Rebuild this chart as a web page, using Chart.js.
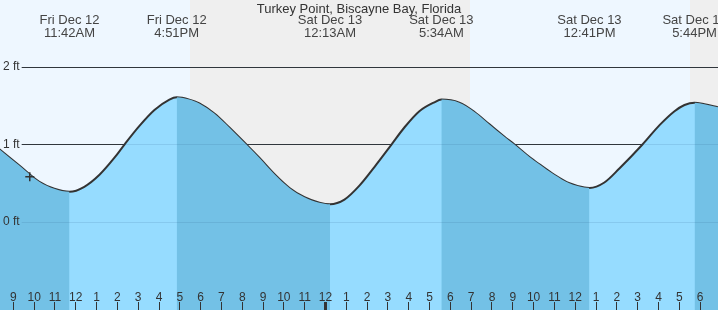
<!DOCTYPE html>
<html>
<head>
<meta charset="utf-8">
<script src="https://cdn.jsdelivr.net/npm/chart.js@4.4.1/dist/chart.umd.min.js"></script>
<style>
  html, body { margin: 0; padding: 0; background: #eef7ff; }
  canvas { display: block; }
</style>
</head>
<body>
<canvas id="tideChart" width="718" height="310"></canvas>
<script>
// hours are counted from Fri Dec 12 00:00, heights in feet
var stationName = "Turkey Point, Biscayne Bay, Florida";

var tideHours = [8.33, 9.29, 10.25, 10.97, 11.70, 12.41, 13.14, 13.86, 14.34, 15.06, 15.78, 16.50, 16.85,
  17.46, 17.94, 18.66, 19.38, 20.20, 20.82, 21.54, 22.27, 22.99, 23.71, 24.217,
  24.91, 25.63, 26.35, 27.17, 27.79, 28.51, 29.23, 29.567,
  30.43, 31.16, 31.88, 32.60, 33.08, 33.80, 34.28, 35.00, 35.72, 36.44, 36.683,
  37.40, 38.12, 39.23, 40.05, 40.77, 41.25, 41.733, 42.21, 42.86];
var tideFeet = [0.94, 0.73, 0.52, 0.43, 0.39, 0.455, 0.61, 0.83, 1.00, 1.24, 1.445, 1.58, 1.61,
  1.58, 1.53, 1.40, 1.22, 1.00, 0.83, 0.62, 0.44, 0.32, 0.25, 0.23,
  0.29, 0.47, 0.71, 1.00, 1.22, 1.43, 1.545, 1.58,
  1.54, 1.42, 1.26, 1.10, 1.00, 0.84, 0.745, 0.61, 0.50, 0.445, 0.44,
  0.51, 0.69, 1.00, 1.25, 1.43, 1.51, 1.54, 1.52, 1.48];

// high / low tide labels along the top
var eventHours = [11.70, 16.85, 24.217, 29.567, 36.683, 41.733];
var eventDays = ["Fri Dec 12", "Fri Dec 12", "Sat Dec 13", "Sat Dec 13", "Sat Dec 13", "Sat Dec 13"];
var eventClock = ["11:42AM", "4:51PM", "12:13AM", "5:34AM", "12:41PM", "5:44PM"];

// sunset -> sunrise
var nightStart = [17.49, 41.52];
var nightEnd = [30.94, 48];

// current time marker
var nowHour = [9.79];
var nowFeet = [0.585];

var footTicks = [0, 1, 2];

var hourMin = 8.36, hourMax = 42.86;
var feetMin = -1.135, feetMax = 2.865;

var fillRising = '#96dcff';
var fillFalling = '#73c1e6';
var FONT = '"Liberation Sans", Arial, sans-serif';

var tidePoints = tideHours.map(function (h, i) { return { x: h, y: tideFeet[i] }; });
var nowPoints = nowHour.map(function (h, i) { return { x: h, y: nowFeet[i] }; });

function noPadding(s) {
  s.paddingLeft = 0; s.paddingRight = 0; s.paddingTop = 0; s.paddingBottom = 0;
}

// day / night bands behind everything, tide labels on top
var tideDecor = {
  id: 'tideDecor',
  beforeDraw: function (chart) {
    var c = chart.ctx, area = chart.chartArea, xs = chart.scales.x;
    c.save();
    c.fillStyle = '#eef7ff';
    c.fillRect(area.left, area.top, area.right - area.left, area.bottom - area.top);
    c.fillStyle = '#efefef';
    for (var i = 0; i < nightStart.length; i++) {
      var x0 = Math.round(Math.max(xs.getPixelForValue(nightStart[i]), area.left));
      var x1 = Math.round(Math.min(xs.getPixelForValue(nightEnd[i]), area.right));
      c.fillRect(x0, area.top, x1 - x0, area.bottom - area.top);
    }
    c.restore();
  },
  afterDraw: function (chart) {
    var c = chart.ctx, xs = chart.scales.x;
    c.save();
    c.font = '13px ' + FONT;
    c.textAlign = 'center';
    c.textBaseline = 'alphabetic';
    c.fillStyle = '#444';
    for (var i = 0; i < eventHours.length; i++) {
      var x = xs.getPixelForValue(eventHours[i]);
      c.fillText(eventDays[i], x, 24.3);
      c.fillText(eventClock[i], x, 36.6);
    }
    c.fillStyle = '#333';
    c.fillText(stationName, chart.width / 2, 12.5);
    c.restore();
  }
};

var ctx = document.getElementById('tideChart').getContext('2d');
var tideChart = new Chart(ctx, {
  type: 'line',
  data: {
    datasets: [{
      label: 'now',
      data: nowPoints,
      showLine: false,
      pointStyle: 'cross',
      pointRadius: 4.5,
      pointBorderColor: '#333',
      pointBorderWidth: 1.5,
      fill: false
    }, {
      // darker fill where the tide is falling
      label: 'falling',
      data: tidePoints,
      borderWidth: 0,
      borderColor: 'rgba(0,0,0,0)',
      pointRadius: 0,
      cubicInterpolationMode: 'monotone',
      fill: 'start',
      backgroundColor: fillFalling,
      segment: {
        backgroundColor: function (s) {
          return s.p1.parsed.y > s.p0.parsed.y ? 'rgba(0,0,0,0)' : fillFalling;
        }
      }
    }, {
      label: 'tide',
      data: tidePoints,
      borderColor: '#333',
      borderWidth: 2,
      pointRadius: 0,
      cubicInterpolationMode: 'monotone',
      fill: 'start',
      backgroundColor: fillRising
    }]
  },
  options: {
    responsive: false,
    animation: false,
    devicePixelRatio: 1,
    layout: { padding: 0, autoPadding: false },
    plugins: {
      legend: { display: false },
      tooltip: { enabled: false }
    },
    scales: {
      x: {
        type: 'linear',
        position: 'bottom',
        min: hourMin,
        max: hourMax,
        afterFit: function (s) { s.height = 0; noPadding(s); },
        border: { display: false },
        grid: {
          z: 1,
          drawOnChartArea: false,
          drawTicks: true,
          tickLength: -8,
          tickColor: '#333',
          tickWidth: function (c) { return c.tick && c.tick.value % 24 === 0 ? 3 : 1; }
        },
        ticks: {
          z: 1,
          mirror: true,
          stepSize: 1,
          includeBounds: false,
          autoSkip: false,
          maxRotation: 0,
          minRotation: 0,
          padding: 6,
          color: '#333',
          font: { family: FONT, size: 12, lineHeight: 1 },
          callback: function (v) { return String(v % 12 === 0 ? 12 : v % 12); }
        }
      },
      y: {
        type: 'linear',
        position: 'left',
        min: feetMin,
        max: feetMax,
        afterFit: function (s) { s.width = 0; noPadding(s); },
        afterBuildTicks: function (s) { s.ticks = footTicks.map(function (v) { return { value: v }; }); },
        border: { display: false },
        grid: { color: '#333', lineWidth: 1, drawTicks: false },
        ticks: { display: false }
      },
      y2: {
        type: 'linear',
        position: 'left',
        min: feetMin,
        max: feetMax,
        afterFit: function (s) { s.width = 0; noPadding(s); },
        afterBuildTicks: function (s) { s.ticks = footTicks.map(function (v) { return { value: v }; }); },
        border: { display: false },
        // faint copy of the foot lines seen through the water
        grid: { z: 1, color: 'rgba(30,80,120,0.13)', lineWidth: 1, drawTicks: false },
        ticks: {
          z: 1,
          mirror: true,
          padding: 3,
          color: '#333',
          font: { family: FONT, size: 12, lineHeight: 1 },
          showLabelBackdrop: true,
          backdropColor: function (c) { return c.tick && c.tick.value === 0 ? fillFalling : '#eef7ff'; },
          backdropPadding: { top: -4, bottom: -4, left: 3, right: 2 },
          callback: function (v) { return v + ' ft'; }
        }
      }
    }
  },
  plugins: [tideDecor]
});
</script>
</body>
</html>
